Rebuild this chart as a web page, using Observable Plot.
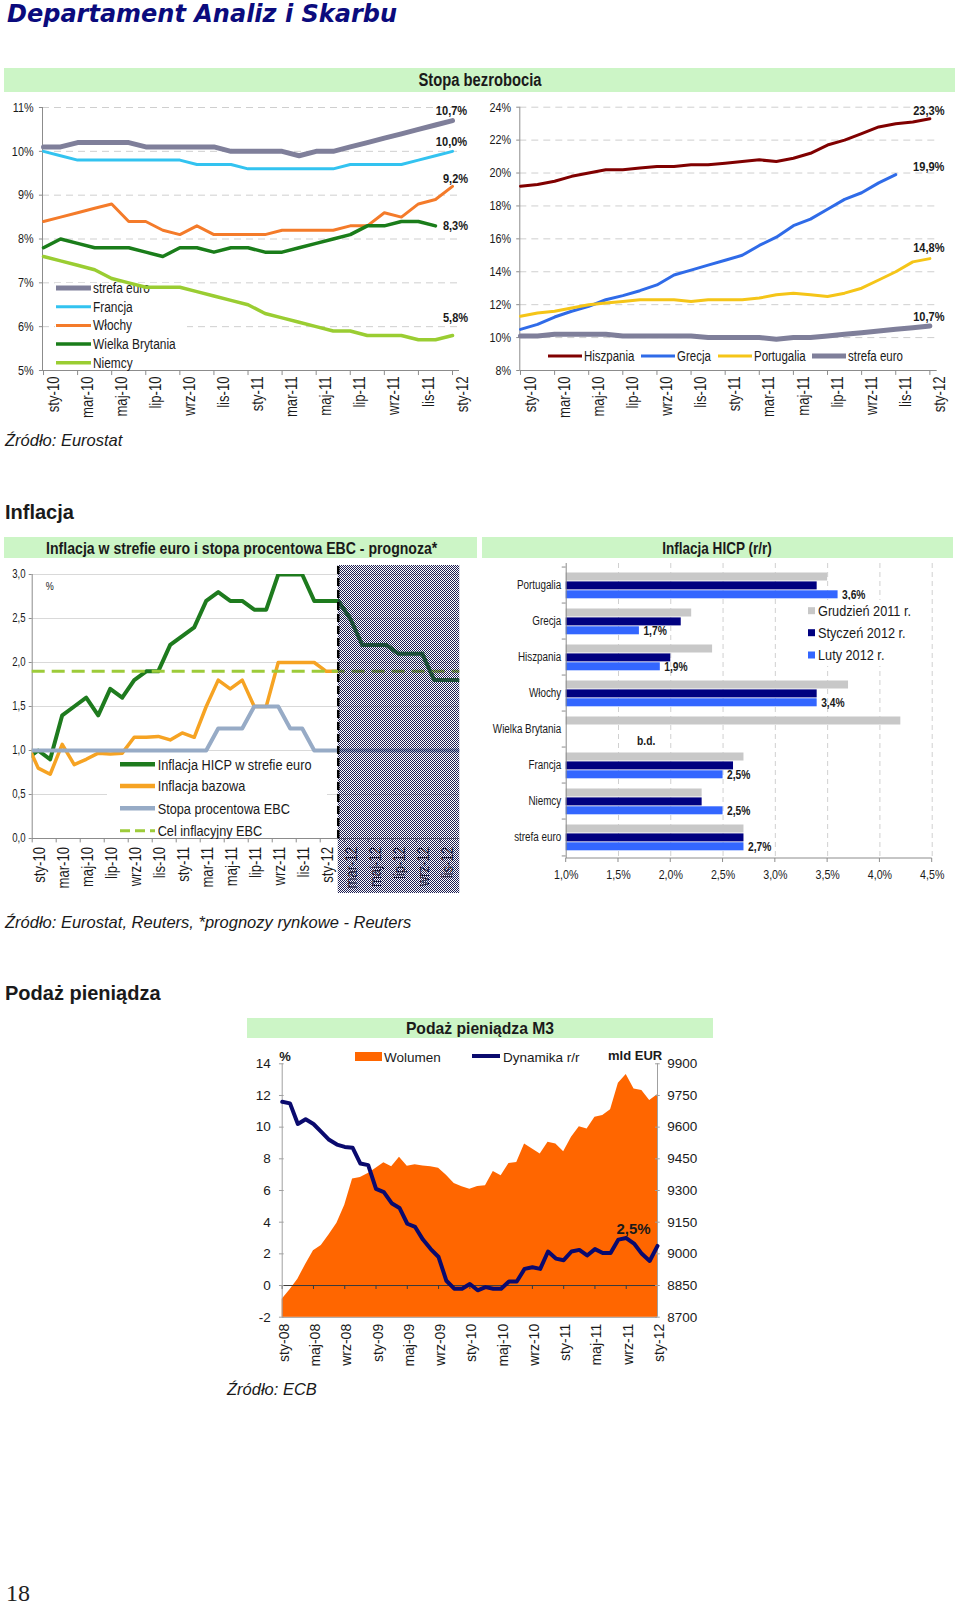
<!DOCTYPE html>
<html lang="pl">
<head>
<meta charset="utf-8">
<script src="https://cdn.jsdelivr.net/npm/d3@7"></script>
<script src="https://cdn.jsdelivr.net/npm/@observablehq/plot@0.6"></script>
<style>
html,body{margin:0;padding:0;background:#fff;}
#page{position:relative;width:960px;height:1608px;overflow:hidden;background:#fff;}
#page svg{position:absolute;max-width:none;}
</style>
</head>
<body>
<div id="page"></div>
<script>
// ================= DATA =================
// --- Stopa bezrobocia (%), sty-10 .. sty-12 ---
const unempMonths = ["sty-10","lut-10","mar-10","kwi-10","maj-10","cze-10","lip-10","sie-10","wrz-10","paź-10","lis-10","gru-10","sty-11","lut-11","mar-11","kwi-11","maj-11","cze-11","lip-11","sie-11","wrz-11","paź-11","lis-11","gru-11","sty-12"];
const unempTickLabels = ["sty-10","mar-10","maj-10","lip-10","wrz-10","lis-10","sty-11","mar-11","maj-11","lip-11","wrz-11","lis-11","sty-12"];
const unempLeftTicks = [5,6,7,8,9,10,11];
const unempRightTicks = [8,10,12,14,16,18,20,22,24];
const strefaEuro = [10.1,10.1,10.2,10.2,10.2,10.2,10.1,10.1,10.1,10.1,10.1,10.0,10.0,10.0,10.0,9.9,10.0,10.0,10.1,10.2,10.3,10.4,10.5,10.6,10.7];
const francja = [10.0,9.9,9.8,9.8,9.8,9.8,9.8,9.8,9.8,9.7,9.7,9.7,9.6,9.6,9.6,9.6,9.6,9.6,9.7,9.7,9.7,9.7,9.8,9.9,10.0];
const wlochy = [8.4,8.5,8.6,8.7,8.8,8.4,8.4,8.2,8.1,8.3,8.1,8.1,8.1,8.1,8.2,8.2,8.2,8.2,8.3,8.3,8.6,8.5,8.8,8.9,9.2];
const wielkaBrytania = [7.8,8.0,7.9,7.8,7.8,7.8,7.7,7.6,7.8,7.8,7.7,7.8,7.8,7.7,7.7,7.8,7.9,8.0,8.1,8.3,8.3,8.4,8.4,8.3,null];
const niemcy = [7.6,7.5,7.4,7.3,7.1,7.0,6.9,6.9,6.9,6.8,6.7,6.6,6.5,6.3,6.2,6.1,6.0,5.9,5.9,5.8,5.8,5.8,5.7,5.7,5.8];
const hiszpania = [19.2,19.3,19.5,19.8,20.0,20.2,20.2,20.3,20.4,20.4,20.5,20.5,20.6,20.7,20.8,20.7,20.9,21.2,21.7,22.0,22.4,22.8,23.0,23.1,23.3];
const grecja = [10.5,10.8,11.25,11.6,11.9,12.3,12.55,12.85,13.2,13.8,14.1,14.4,14.7,15.0,15.6,16.1,16.8,17.2,17.8,18.4,18.8,19.4,19.9,null,null];
const portugalia = [11.3,11.5,11.6,11.8,12.0,12.1,12.2,12.3,12.3,12.3,12.2,12.3,12.3,12.3,12.4,12.6,12.7,12.6,12.5,12.7,13.0,13.5,14.0,14.6,14.8];

// --- Inflacja w strefie euro i stopa EBC (%), gru-09 .. gru-12 ---
const infMonths = ["gru-09","sty-10","lut-10","mar-10","kwi-10","maj-10","cze-10","lip-10","sie-10","wrz-10","paź-10","lis-10","gru-10","sty-11","lut-11","mar-11","kwi-11","maj-11","cze-11","lip-11","sie-11","wrz-11","paź-11","lis-11","gru-11","sty-12","lut-12","mar-12","kwi-12","maj-12","cze-12","lip-12","sie-12","wrz-12","paź-12","lis-12","gru-12"];
const infTickLabels = ["sty-10","mar-10","maj-10","lip-10","wrz-10","lis-10","sty-11","mar-11","maj-11","lip-11","wrz-11","lis-11","sty-12","mar-12","maj-12","lip-12","wrz-12","lis-12"];
const infYTicks = [0,0.5,1,1.5,2,2.5,3];
const inflacjaHICP = [0.9,1.0,0.9,1.4,1.5,1.6,1.4,1.7,1.6,1.8,1.9,1.9,2.2,2.3,2.4,2.7,2.8,2.7,2.7,2.6,2.6,3.0,3.0,3.0,2.7,2.7,2.7,2.5,2.2,2.2,2.2,2.1,2.1,2.1,1.8,1.8,1.8];
const inflacjaBazowa = [1.1,0.8,0.73,1.07,0.84,0.9,0.97,0.96,0.97,1.15,1.15,1.16,1.12,1.2,1.15,1.5,1.8,1.7,1.8,1.5,1.5,2.0,2.0,2.0,2.0,1.9,1.9];
const stopaEBC = [1.0,1.0,1.0,1.0,1.0,1.0,1.0,1.0,1.0,1.0,1.0,1.0,1.0,1.0,1.0,1.0,1.25,1.25,1.25,1.5,1.5,1.5,1.25,1.25,1.0,1.0,1.0,1.0,1.0,1.0,1.0,1.0,1.0,1.0,1.0,1.0,1.0];
const celInflacyjny = 1.9;
const ostatniMiesiacDanych = "lut-12";

// --- Inflacja HICP (r/r), % ---
const hicpCountries = ["Portugalia","Grecja","Hiszpania","Włochy","Wielka Brytania","Francja","Niemcy","strefa euro"];
const grudzien2011 = [3.5,2.2,2.4,3.7,4.2,2.7,2.3,2.7];
const styczen2012 = [3.4,2.1,2.0,3.4,null,2.6,2.3,2.7];
const luty2012 = [3.6,1.7,1.9,3.4,null,2.5,2.5,2.7];
const hicpXTicks = [1.0,1.5,2.0,2.5,3.0,3.5,4.0,4.5];

// --- Podaż pieniądza M3, sty-08 .. sty-12 ---
const m3Months = ["sty-08","lut-08","mar-08","kwi-08","maj-08","cze-08","lip-08","sie-08","wrz-08","paź-08","lis-08","gru-08","sty-09","lut-09","mar-09","kwi-09","maj-09","cze-09","lip-09","sie-09","wrz-09","paź-09","lis-09","gru-09","sty-10","lut-10","mar-10","kwi-10","maj-10","cze-10","lip-10","sie-10","wrz-10","paź-10","lis-10","gru-10","sty-11","lut-11","mar-11","kwi-11","maj-11","cze-11","lip-11","sie-11","wrz-11","paź-11","lis-11","gru-11","sty-12"];
const m3TickLabels = ["sty-08","maj-08","wrz-08","sty-09","maj-09","wrz-09","sty-10","maj-10","wrz-10","sty-11","maj-11","wrz-11","sty-12"];
const m3Wolumen = [8785,8830,8880,8950,9015,9040,9090,9145,9230,9355,9362,9380,9405,9432,9412,9458,9415,9422,9416,9412,9405,9372,9333,9318,9306,9319,9322,9390,9370,9428,9433,9520,9496,9473,9528,9520,9484,9552,9602,9591,9647,9655,9682,9808,9849,9781,9773,9726,9754];
const m3Dynamika = [11.6,11.5,10.2,10.5,10.2,9.7,9.2,8.9,8.75,8.7,7.7,7.6,6.1,5.9,5.2,4.9,3.9,3.7,2.9,2.3,1.8,0.3,-0.2,-0.2,0.1,-0.3,-0.1,-0.2,-0.2,0.25,0.25,1.05,1.15,1.05,2.15,1.7,1.6,2.15,2.25,1.9,2.3,2.05,2.05,2.9,3.0,2.65,2.0,1.55,2.5];
const m3LeftTicks = [-2,0,2,4,6,8,10,12,14];
const m3RightTicks = [8700,8850,9000,9150,9300,9450,9600,9750,9900];

// ================= HELPERS =================
// "condNN" is a marker (not an installed font): texts using it are condensed to NN% width (narrow-font look)
const NF = "cond82,'Liberation Sans',Arial,sans-serif";
const NF80 = "cond80,'Liberation Sans',Arial,sans-serif";
const NF85 = "cond85,'Liberation Sans',Arial,sans-serif";
const NF88 = "cond88,'Liberation Sans',Arial,sans-serif";
const SF = "'Liberation Sans',Arial,Helvetica,sans-serif";
const INK = "#1a1a1a";
const AXIS = "#8c8c8c";
const HEAD = "#ccf5c6";
const comma = v => v.toFixed(1).replace(".", ",");
const page = document.getElementById("page");
function condense(svg) {
  svg.querySelectorAll("text").forEach(t => {
    const host = t.closest("[font-family]");
    if (!host) return;
    const m = /cond(\d+)/.exec(host.getAttribute("font-family"));
    if (!m) return;
    const len = t.getComputedTextLength();
    if (len > 0) {
      t.setAttribute("textLength", (len * (+m[1]) / 100).toFixed(2));
      t.setAttribute("lengthAdjust", "spacingAndGlyphs");
    }
  });
}
function put(node, left, top, z) {
  node.style.position = "absolute"; node.style.left = left + "px"; node.style.top = top + "px";
  node.style.maxWidth = "none"; node.style.zIndex = z || 1; page.appendChild(node);
  condense(node);
  return node;
}
function txt(g, x, y, s, o = {}) {
  const t = g.append("text").attr("x", x).attr("y", y).text(s)
    .attr("font-family", o.family || SF).attr("font-size", o.size || 14).attr("fill", o.fill || INK)
    .attr("text-anchor", o.anchor || "start");
  if (o.weight) t.attr("font-weight", o.weight);
  if (o.style) t.attr("font-style", o.style);
  if (o.mid) t.attr("dy", "0.35em");
  return t;
}
function rows(arr) { return arr.map((v, i) => ({i, v})).filter(d => d.v != null); }
function lastRow(arr) { let i = arr.length - 1; while (arr[i] == null) i--; return {i, v: arr[i]}; }
function insertBeforeFirst(svg, selector) {
  const g = document.createElementNS("http://www.w3.org/2000/svg", "g");
  svg.insertBefore(g, svg.querySelector(selector));
  return d3.select(g);
}

// ================= OVERLAY (titles, headers, sources) =================
const ov = d3.create("svg").attr("width", 960).attr("height", 1608);
txt(ov, 7, 21.5, "Departament Analiz i Skarbu", {family: "'DejaVu Sans',sans-serif", size: 24, weight: "bold", style: "italic", fill: "#0b0b7d"});
ov.append("rect").attr("x", 4).attr("y", 68).attr("width", 951).attr("height", 24).attr("fill", HEAD);
txt(ov, 480, 80, "Stopa bezrobocia", {family: NF, size: 18, weight: "bold", anchor: "middle", mid: true});
txt(ov, 5, 446, "Źródło: Eurostat", {size: 16.5, style: "italic"});
txt(ov, 5, 519, "Inflacja", {size: 20, weight: "bold"});
ov.append("rect").attr("x", 4).attr("y", 537).attr("width", 473).attr("height", 21).attr("fill", HEAD);
txt(ov, 241.7, 548, "Inflacja w strefie euro i stopa procentowa EBC - prognoza*", {family: NF88, size: 16, weight: "bold", anchor: "middle", mid: true});
ov.append("rect").attr("x", 482).attr("y", 537).attr("width", 471).attr("height", 21).attr("fill", HEAD);
txt(ov, 717, 548, "Inflacja HICP (r/r)", {family: NF, size: 16.5, weight: "bold", anchor: "middle", mid: true});
txt(ov, 5, 928, "Źródło: Eurostat, Reuters, *prognozy rynkowe - Reuters", {size: 16.5, style: "italic"});
txt(ov, 5, 1000, "Podaż pieniądza", {size: 20, weight: "bold"});
ov.append("rect").attr("x", 247).attr("y", 1018).attr("width", 466).attr("height", 20).attr("fill", HEAD);
txt(ov, 480, 1028.5, "Podaż pieniądza M3", {size: 15.7, weight: "bold", anchor: "middle", mid: true});
txt(ov, 227, 1395, "Źródło: ECB", {size: 16.5, style: "italic"});
txt(ov, 6, 1601, "18", {family: "'Liberation Serif',serif", size: 24, fill: "#222"});
put(ov.node(), 0, 0, 0);

// ================= CHART A: unemployment (core countries) =================
const seriesA = [
  {name: "strefa euro", values: strefaEuro, color: "#7f7f9a", w: 5, dx: -1, dy: -10},
  {name: "Francja", values: francja, color: "#33c3f0", w: 3, dx: -1, dy: -10},
  {name: "Włochy", values: wlochy, color: "#f47b2a", w: 3, dx: 3, dy: -8},
  {name: "Wielka Brytania", values: wielkaBrytania, color: "#1a7d1a", w: 3.5, dx: 20, dy: 0},
  {name: "Niemcy", values: niemcy, color: "#9acd32", w: 3.5, dx: 3, dy: -18}
];
const xTicksA = unempTickLabels.map(d => unempMonths.indexOf(d));
const chartA = Plot.plot({
  width: 470, height: 330, marginLeft: 42, marginRight: 11, marginTop: 12, marginBottom: 55,
  x: {domain: [-0.06, 24.41], axis: null}, y: {domain: [5, 11], axis: null},
  style: {background: "none", overflow: "visible"},
  marks: [
    Plot.ruleY(unempLeftTicks.slice(1), {stroke: "#cfcfcf", strokeDasharray: "7,5"}),
    Plot.ruleX([-0.06], {y1: 5, y2: 11, stroke: AXIS}),
    Plot.ruleY([5], {stroke: AXIS}),
    Plot.ruleX(xTicksA, {y1: 5, y2: 4.885, stroke: AXIS}),
    Plot.ruleY(unempLeftTicks, {x1: -0.24, x2: -0.06, stroke: AXIS}),
    Plot.text(unempLeftTicks, {x: -0.06, y: d => d, text: d => d + "%", textAnchor: "end", dx: -9, fontSize: 13.5, fontFamily: NF80, fill: INK}),
    Plot.text(unempTickLabels, {x: d => unempMonths.indexOf(d), y: 5, text: d => d, rotate: -90, textAnchor: "end", dx: 10, dy: 6, fontSize: 16, fontFamily: NF, fill: INK}),
    ...seriesA.map(s => Plot.line(rows(s.values), {x: "i", y: "v", stroke: s.color, strokeWidth: s.w, strokeLinejoin: "round"})),
    ...seriesA.map(s => Plot.text([lastRow(s.values)], {x: "i", y: "v", text: d => comma(d.v) + "%", dx: s.dx, dy: s.dy, fontWeight: "bold", fontSize: 13, fontFamily: NF85, fill: INK}))
  ]
});
{
  const g = insertBeforeFirst(chartA, 'g[aria-label="line"]');
  g.append("rect").attr("x", 55).attr("y", 188).attr("width", 132).attr("height", 86).attr("fill", "#fff");
  seriesA.forEach((s, k) => {
    const y = 193 + k * 18.7;
    g.append("line").attr("x1", 56).attr("x2", 91).attr("y1", y).attr("y2", y).attr("stroke", s.color).attr("stroke-width", s.w);
    txt(g, 93, y, s.name, {family: NF85, size: 14, mid: true});
  });
}
put(chartA, 0, 95);

// ================= CHART B: unemployment (periphery) =================
const seriesB = [
  {name: "Hiszpania", values: hiszpania, color: "#800000", w: 3, dx: -1, dy: -7.5, lx: 78, tx: 114},
  {name: "Grecja", values: grecja, color: "#2f6be8", w: 3, dx: 33, dy: -8, lx: 171, tx: 207},
  {name: "Portugalia", values: portugalia, color: "#f5c518", w: 3, dx: -1, dy: -11, lx: 248, tx: 284},
  {name: "strefa euro", values: strefaEuro, color: "#7f7f9a", w: 5, dx: -1, dy: -9.5, lx: 342, tx: 378}
];
const chartB = Plot.plot({
  width: 490, height: 330, marginLeft: 49.3, marginRight: 23.3, marginTop: 11.7, marginBottom: 55,
  x: {domain: [-0.04, 24.43], axis: null}, y: {domain: [8, 24], axis: null},
  style: {background: "none", overflow: "visible"},
  marks: [
    Plot.ruleY(unempRightTicks.slice(1), {stroke: "#cfcfcf", strokeDasharray: "7,5"}),
    Plot.ruleX([-0.04], {y1: 8, y2: 24, stroke: AXIS}),
    Plot.ruleY([8], {stroke: AXIS}),
    Plot.ruleX(xTicksA, {y1: 8, y2: 7.7, stroke: AXIS}),
    Plot.ruleY(unempRightTicks, {x1: -0.22, x2: -0.04, stroke: AXIS}),
    Plot.text(unempRightTicks, {x: -0.04, y: d => d, text: d => d + "%", textAnchor: "end", dx: -8.6, fontSize: 13.5, fontFamily: NF80, fill: INK}),
    Plot.text(unempTickLabels, {x: d => unempMonths.indexOf(d), y: 8, text: d => d, rotate: -90, textAnchor: "end", dx: 10, dy: 6, fontSize: 16, fontFamily: NF, fill: INK}),
    ...seriesB.map(s => Plot.line(rows(s.values), {x: "i", y: "v", stroke: s.color, strokeWidth: s.w, strokeLinejoin: "round"})),
    ...seriesB.map(s => Plot.text([lastRow(s.values)], {x: "i", y: "v", text: d => comma(d.v) + "%", dx: s.dx, dy: s.dy, fontWeight: "bold", fontSize: 13, fontFamily: NF85, fill: INK}))
  ]
});
{
  const g = d3.select(chartB).append("g");
  seriesB.forEach(s => {
    g.append("line").attr("x1", s.lx).attr("x2", s.lx + 34).attr("y1", 261).attr("y2", 261).attr("stroke", s.color).attr("stroke-width", s.w);
    txt(g, s.tx, 261, s.name, {family: NF, size: 14, mid: true});
  });
}
put(chartB, 470, 95);

// ================= CHART C: inflation & ECB rate =================
const infIdx = m => infMonths.indexOf(m);
const seriesC = [
  {name: "Inflacja HICP w strefie euro", values: inflacjaHICP, color: "#1e7b1e", w: 4},
  {name: "Inflacja bazowa", values: inflacjaBazowa, color: "#f6a323", w: 3.5},
  {name: "Stopa procentowa EBC", values: stopaEBC, color: "#97abc6", w: 4}
];
const boundaryTicksC = d3.range(0.5, infMonths.length - 1, 2);
const chartC = Plot.plot({
  width: 470, height: 340, marginLeft: 31.7, marginRight: 10.7, marginTop: 14, marginBottom: 62,
  x: {domain: [0.5, 36.13], axis: null}, y: {domain: [0, 3], axis: null},
  style: {background: "none", overflow: "visible"},
  marks: [
    Plot.ruleY(infYTicks.slice(1), {stroke: "#d9d9d9"}),
    Plot.ruleX([0.5], {y1: 0, y2: 3, stroke: AXIS}),
    Plot.ruleY([0], {stroke: AXIS}),
    Plot.ruleY(infYTicks, {x1: 0.25, x2: 0.5, stroke: AXIS}),
    Plot.ruleX(boundaryTicksC, {y1: 0, y2: -0.05, stroke: AXIS}),
    Plot.text(infYTicks, {x: 0.5, y: d => d, text: d => comma(d), textAnchor: "end", dx: -6.7, fontSize: 12, fontFamily: NF80, fill: INK}),
    Plot.text(["%"], {frameAnchor: "top-left", dx: 13.5, dy: 8, fontSize: 11, fontFamily: NF, fill: INK}),
    Plot.text(infTickLabels, {x: infIdx, y: 0, text: d => d, rotate: -90, textAnchor: "end", dx: 1.5, dy: 8.5, fontSize: 16, fontFamily: NF, fill: INK}),
    ...seriesC.map(s => Plot.line(rows(s.values), {x: "i", y: "v", stroke: s.color, strokeWidth: s.w, strokeLinejoin: "round", clip: true})),
    Plot.ruleY([celInflacyjny], {stroke: "#9dcb3a", strokeWidth: 3, strokeDasharray: "13,7"}),
    Plot.rect([infIdx(ostatniMiesiacDanych)], {x1: d => d, x2: 36.13, insetTop: -9, insetBottom: -55, fill: "url(#hatchInf)"}),
    Plot.ruleX([infIdx(ostatniMiesiacDanych)], {stroke: "#000", strokeWidth: 2.5, strokeDasharray: "8,4", insetTop: -8})
  ]
});
{
  const defs = d3.select(chartC).insert("defs", ":first-child");
  const pat = defs.append("pattern").attr("id", "hatchInf").attr("width", 2).attr("height", 2).attr("patternUnits", "userSpaceOnUse");
  pat.append("rect").attr("width", 1).attr("height", 1).attr("fill", "#1e1e52");
  pat.append("rect").attr("x", 1).attr("y", 1).attr("width", 1).attr("height", 1).attr("fill", "#1e1e52");
  const g = insertBeforeFirst(chartC, 'g[aria-label="line"]');
  g.append("rect").attr("x", 107).attr("y", 193).attr("width", 220).attr("height", 83).attr("fill", "#fff");
  const leg = [...seriesC, {name: "Cel inflacyjny EBC", color: "#9dcb3a", w: 3, dash: "10,5"}];
  const ys = [204.3, 226, 248.3, 270.7];
  leg.forEach((s, k) => {
    const l = g.append("line").attr("x1", 120).attr("x2", 155).attr("y1", ys[k]).attr("y2", ys[k]).attr("stroke", s.color).attr("stroke-width", s.dash ? 3 : 4.5);
    if (s.dash) l.attr("stroke-dasharray", s.dash);
    txt(g, 157.7, ys[k], s.name, {family: NF, size: 15.5, mid: true});
  });
}
put(chartC, 0, 560);

// ================= CHART D: HICP bars =================
const barRows = hicpCountries.map((c, k) => ({c, g: grudzien2011[k], s: styczen2012[k], l: luty2012[k]}));
const barSeries = [
  {name: "Grudzień 2011 r.", color: "#c8c8c8"},
  {name: "Styczeń 2012 r.", color: "#000080"},
  {name: "Luty 2012 r.", color: "#3366ff"}
];
const chartD = Plot.plot({
  width: 490, height: 340, marginLeft: 95.7, marginRight: 28.3, marginTop: 3, marginBottom: 42,
  x: {domain: [1, 4.5], axis: null}, y: {domain: hicpCountries, axis: null, padding: 0},
  style: {background: "none", overflow: "visible"},
  marks: [
    Plot.ruleX(hicpXTicks.slice(1), {stroke: "#d0d0d0", strokeDasharray: "5,4"}),
    Plot.barX(barRows, {y: "c", x1: 1, x2: "g", fill: barSeries[0].color, insetTop: 5.5, insetBottom: 22.5}),
    Plot.barX(barRows.filter(d => d.s != null), {y: "c", x1: 1, x2: "s", fill: barSeries[1].color, insetTop: 14.4, insetBottom: 13.6}),
    Plot.barX(barRows.filter(d => d.l != null), {y: "c", x1: 1, x2: "l", fill: barSeries[2].color, insetTop: 23.3, insetBottom: 4.7}),
    Plot.text(barRows.filter(d => d.l != null), {y: "c", x: "l", text: d => comma(d.l) + "%", textAnchor: "start", dx: 4, dy: 9.3, fontWeight: "bold", fontSize: 12.5, fontFamily: NF, fill: INK}),
    Plot.text(barRows.filter(d => d.s == null), {y: "c", x: 1, text: () => "b.d.", dx: 80, dy: 11, fontWeight: "bold", fontSize: 12.5, fontFamily: NF, fill: INK}),
    Plot.ruleX([1], {stroke: AXIS}),
    Plot.ruleY(hicpCountries, {y: d => d, x1: 0.962, x2: 1, dy: -18.44, stroke: AXIS}),
    Plot.ruleY([hicpCountries[hicpCountries.length - 1]], {y: d => d, x1: 0.962, x2: 1, dy: 18.44, stroke: AXIS}),
    Plot.text(hicpCountries, {y: d => d, x: 1, text: d => d, textAnchor: "end", dx: -5, fontSize: 12, fontFamily: NF, fill: INK}),
    Plot.text(hicpXTicks, {x: d => d, frameAnchor: "bottom", dy: 20, text: d => comma(d) + "%", fontSize: 13, fontFamily: NF, fill: INK})
  ]
});
{
  const g = d3.select(chartD).append("g");
  g.append("rect").attr("x", 333).attr("y", 40).attr("width", 115).attr("height", 66).attr("fill", "#fff");
  const ys = [50.7, 72.7, 95];
  barSeries.forEach((s, k) => {
    g.append("rect").attr("x", 338).attr("y", ys[k] - 3.5).attr("width", 7).attr("height", 7).attr("fill", s.color);
    txt(g, 348, ys[k], s.name, {family: NF, size: 15.5, mid: true});
  });
  g.append("line").attr("x1", 95.7).attr("x2", 461.7).attr("y1", 298).attr("y2", 298).attr("stroke", AXIS);
  const xs = d3.scaleLinear([1, 4.5], [95.7, 461.7]);
  hicpXTicks.forEach(t => g.append("line").attr("x1", xs(t)).attr("x2", xs(t)).attr("y1", 298).attr("y2", 302).attr("stroke", AXIS));
}
put(chartD, 470, 560);

// ================= CHART E: M3 =================
const m3Rows = m3Months.map((m, i) => ({i, vol: m3Wolumen[i], dyn: m3Dynamika[i]}));
const toLeft = v => (v - 8850) / 75;
const xTicksE = m3TickLabels.map(d => m3Months.indexOf(d));
const chartE = Plot.plot({
  width: 500, height: 340, marginLeft: 61.7, marginRight: 63, marginTop: 23.3, marginBottom: 63.3,
  x: {domain: [0, 48], axis: null}, y: {domain: [-2, 14], axis: null},
  style: {background: "none", overflow: "visible"},
  marks: [
    Plot.ruleY([-2], {stroke: AXIS}),
    Plot.areaY(m3Rows, {x: "i", y1: -2, y2: d => toLeft(d.vol), fill: "#ff6600"}),
    Plot.ruleY([0], {stroke: "#3a3a3a", strokeWidth: 1}),
    Plot.ruleX(xTicksE, {y1: 0, y2: -0.25, stroke: "#3a3a3a"}),
    Plot.ruleX([0], {y1: -2, y2: 14, stroke: "#a0a0a0"}),
    Plot.ruleX([48], {y1: -2, y2: 14, stroke: "#a0a0a0"}),
    Plot.ruleY(m3LeftTicks, {x1: -0.35, x2: 0.25, stroke: "#a0a0a0"}),
    Plot.ruleY(m3RightTicks.map(toLeft), {x1: 47.75, x2: 48.35, stroke: "#a0a0a0"}),
    Plot.line(m3Rows, {x: "i", y: "dyn", stroke: "#0a0a6e", strokeWidth: 4, strokeLinejoin: "round"}),
    Plot.text(m3LeftTicks, {x: 0, y: d => d, text: d => String(d), textAnchor: "end", dx: -11.5, fontSize: 13.5, fontFamily: SF, fill: INK}),
    Plot.text(m3RightTicks, {x: 48, y: d => toLeft(d), text: d => String(d), textAnchor: "start", dx: 9.7, fontSize: 13.5, fontFamily: SF, fill: INK}),
    Plot.text(m3TickLabels, {x: d => m3Months.indexOf(d), y: -2, text: d => d, rotate: -90, textAnchor: "end", dx: 2, dy: 6.6, fontSize: 14, fontFamily: SF, fill: INK}),
    Plot.text([m3Rows[m3Rows.length - 1]], {x: "i", y: "dyn", text: d => comma(d.dyn) + "%", dx: -24, dy: -17, fontWeight: "bold", fontSize: 15, fontFamily: SF, fill: INK})
  ]
});
{
  const g = d3.select(chartE).append("g");
  txt(g, 65, 16, "%", {size: 13, weight: "bold", anchor: "middle", mid: true});
  g.append("rect").attr("x", 135).attr("y", 12).attr("width", 27).attr("height", 9).attr("fill", "#ff6600");
  txt(g, 164, 17, "Wolumen", {size: 13.5, mid: true});
  g.append("line").attr("x1", 252).attr("x2", 280).attr("y1", 16).attr("y2", 16).attr("stroke", "#0a0a6e").attr("stroke-width", 4);
  txt(g, 283, 17, "Dynamika r/r", {size: 13.5, mid: true});
  txt(g, 388, 15, "mld EUR", {size: 13, weight: "bold", mid: true});
}
put(chartE, 220, 1040);
</script>
</body>
</html>
